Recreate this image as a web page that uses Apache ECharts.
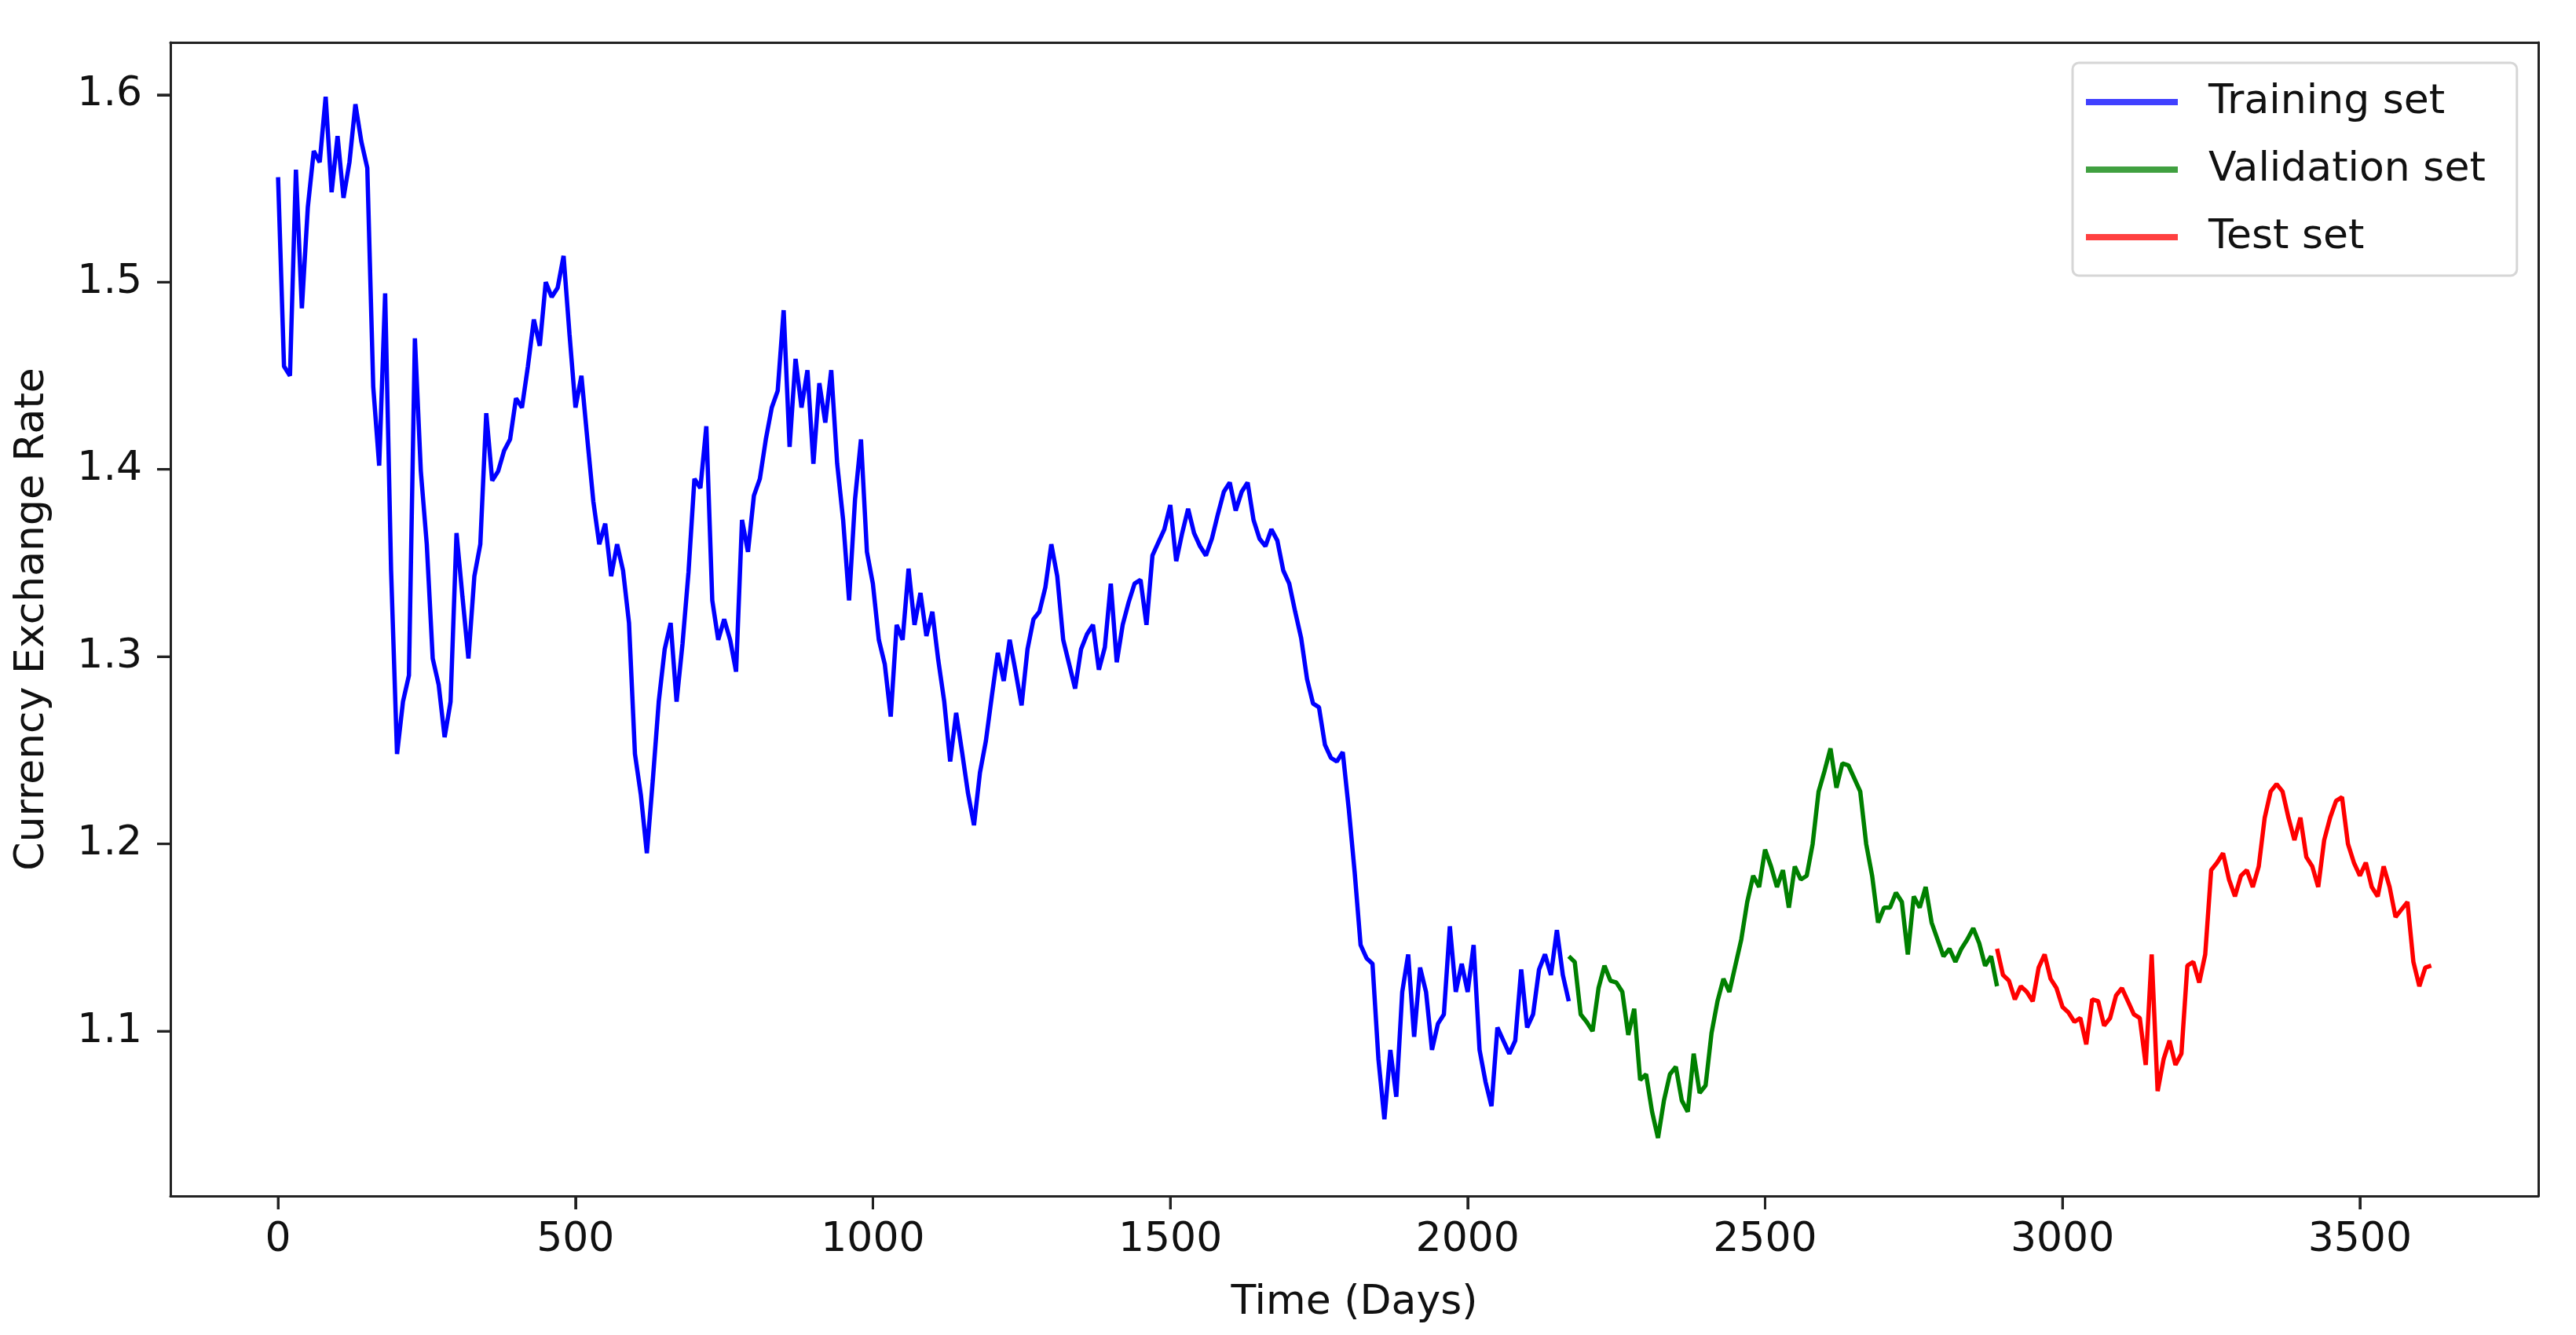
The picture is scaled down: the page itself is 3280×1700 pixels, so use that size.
<!DOCTYPE html>
<html>
<head>
<meta charset="utf-8">
<script src="https://cdn.jsdelivr.net/npm/echarts@6/dist/echarts.min.js"></script>
<style>
  html, body { margin: 0; padding: 0; background: #fff; }
  #chart { width: 3280px; height: 1700px; }
</style>
</head>
<body>
<div id="chart"></div>
<script>
// 每 10 天取一个点（从图上读出来的）
const dayStep = 10;
const trainStart = 0;
const validStart = 2170;
const testStart = 2890;

const trainValues = [
  1.556, 1.455, 1.450, 1.560, 1.486, 1.540, 1.570, 1.564, 1.599, 1.548,
  1.578, 1.545, 1.564, 1.595, 1.575, 1.561, 1.444, 1.402, 1.494, 1.346,
  1.248, 1.276, 1.290, 1.470, 1.399, 1.360, 1.299, 1.285, 1.257, 1.276,
  1.366, 1.332, 1.299, 1.343, 1.360, 1.430, 1.394, 1.399, 1.410, 1.416,
  1.438, 1.433, 1.455, 1.480, 1.466, 1.500, 1.492, 1.497, 1.514, 1.472,
  1.433, 1.450, 1.416, 1.383, 1.360, 1.371, 1.343, 1.360, 1.346, 1.318,
  1.248, 1.226, 1.195, 1.234, 1.276, 1.304, 1.318,
  1.276, 1.307, 1.345, 1.395, 1.390, 1.423, 1.330, 1.309, 1.320, 1.309,
  1.292, 1.373, 1.356, 1.386, 1.395, 1.416, 1.433, 1.442, 1.485, 1.412,
  1.459, 1.433, 1.453, 1.403, 1.446, 1.425, 1.453, 1.403, 1.373, 1.330,
  1.384, 1.416, 1.356, 1.339, 1.309, 1.296, 1.268, 1.317, 1.309, 1.347,
  1.317, 1.334, 1.311, 1.324, 1.298, 1.276, 1.244, 1.270, 1.249, 1.227,
  1.210, 1.238, 1.255, 1.279, 1.302, 1.287, 1.309, 1.292, 1.274, 1.304,
  1.320, 1.324, 1.337, 1.360, 1.343, 1.309, 1.296, 1.283, 1.304,
  1.312, 1.317, 1.293, 1.305, 1.339, 1.297, 1.317, 1.329, 1.339, 1.341,
  1.317, 1.354, 1.361, 1.368, 1.381, 1.351, 1.366, 1.379, 1.366, 1.359,
  1.354, 1.363, 1.376, 1.388, 1.393, 1.378, 1.388, 1.393, 1.373, 1.363,
  1.359, 1.368, 1.362, 1.346, 1.339, 1.324, 1.310, 1.288, 1.275, 1.273,
  1.253, 1.246, 1.244, 1.249, 1.219, 1.185, 1.146, 1.139, 1.136, 1.085,
  1.053, 1.090, 1.065, 1.121, 1.141, 1.097, 1.134, 1.121, 1.090, 1.104,
  1.109, 1.156, 1.121, 1.136, 1.121, 1.146, 1.090, 1.073, 1.060,
  1.102, 1.095, 1.088, 1.095, 1.133, 1.102, 1.109, 1.133, 1.141, 1.130,
  1.154, 1.130, 1.116
];

const validValues = [
  1.140, 1.137, 1.109, 1.105, 1.100, 1.123, 1.135, 1.127, 1.126, 1.121,
  1.098, 1.112, 1.074, 1.077, 1.057, 1.043, 1.063, 1.077, 1.081, 1.063,
  1.057, 1.088, 1.067, 1.071, 1.099, 1.116, 1.128, 1.121, 1.135, 1.149,
  1.169, 1.183, 1.177, 1.197, 1.188, 1.177, 1.186, 1.166, 1.188, 1.181,
  1.183, 1.200, 1.228, 1.239, 1.251, 1.230, 1.243, 1.242, 1.235, 1.228,
  1.200, 1.183, 1.158, 1.166, 1.166, 1.174, 1.169, 1.141, 1.172, 1.166,
  1.177, 1.158, 1.149, 1.140, 1.144, 1.137, 1.144, 1.149, 1.155, 1.147,
  1.135, 1.140, 1.124
];

const testValues = [
  1.144, 1.130, 1.127, 1.117, 1.124, 1.121, 1.116, 1.134, 1.141, 1.128,
  1.123, 1.113, 1.110, 1.105, 1.107, 1.093, 1.117, 1.116, 1.103, 1.107,
  1.119, 1.123, 1.116, 1.109, 1.107, 1.082, 1.141, 1.068, 1.085, 1.095,
  1.082, 1.088, 1.135, 1.137, 1.126, 1.141, 1.186, 1.190, 1.195, 1.181,
  1.172, 1.183, 1.186, 1.177, 1.188, 1.214, 1.228, 1.232, 1.228, 1.214,
  1.202, 1.214, 1.193, 1.188, 1.177, 1.202, 1.214, 1.223, 1.225, 1.200,
  1.190, 1.183, 1.190, 1.177, 1.172, 1.188, 1.177, 1.161, 1.165, 1.169,
  1.137, 1.124, 1.134, 1.135
];

const seriesNames = ['Training set', 'Validation set', 'Test set'];
const seriesColors = ['#0000ff', '#008000', '#ff0000'];
const xTicks = [0, 500, 1000, 1500, 2000, 2500, 3000, 3500];
const yTicks = [1.1, 1.2, 1.3, 1.4, 1.5, 1.6];

function toPoints(start, values) {
  return values.map((v, i) => [start + i * dayStep, v]);
}

const font = 'DejaVu Sans';
const axisColor = '#222';
const tickLen = 17;
const xRange = { min: -181, max: 3800 };
const yRange = { min: 1.012, max: 1.628 };

// 上边和右边只画一条线，凑成外框
const frameAxis = {
  type: 'value',
  axisLine: { show: true, onZero: false, lineStyle: { color: axisColor, width: 3 } },
  axisTick: { show: false },
  axisLabel: { show: false },
  splitLine: { show: false }
};

let myChart = echarts.init(document.getElementById('chart'));
let option = {
  animation: false,
  backgroundColor: '#fff',
  grid: {
    left: 217,
    top: 54,
    width: 3015,
    height: 1469
  },
  legend: {
    orient: 'vertical',
    left: 2639,
    top: 80,
    padding: [24, 40, 23, 17],
    itemWidth: 117,
    itemHeight: 8,
    itemGap: 34,
    icon: 'rect',
    backgroundColor: '#fff',
    borderColor: '#d6d6d6',
    borderWidth: 3,
    borderRadius: 8,
    itemStyle: { opacity: 0.75 },
    textStyle: {
      fontFamily: font,
      fontSize: 52,
      color: '#111',
      lineHeight: 52,
      padding: [0, 0, 0, 34]
    },
    data: seriesNames
  },
  xAxis: [
    {
      type: 'value',
      position: 'bottom',
      min: xRange.min,
      max: xRange.max,
      name: 'Time (Days)',
      nameLocation: 'middle',
      nameGap: 110,
      nameTextStyle: { fontFamily: font, fontSize: 52, color: '#111' },
      axisLine: { show: true, onZero: false, lineStyle: { color: axisColor, width: 3 } },
      splitLine: { show: false },
      axisTick: {
        show: true,
        length: tickLen,
        customValues: xTicks,
        lineStyle: { color: axisColor, width: 3 }
      },
      axisLabel: {
        customValues: xTicks,
        margin: 30,
        fontFamily: font,
        fontSize: 52,
        color: '#111',
        formatter: v => String(v)
      }
    },
    Object.assign({ position: 'top', min: xRange.min, max: xRange.max }, frameAxis)
  ],
  yAxis: [
    {
      type: 'value',
      position: 'left',
      min: yRange.min,
      max: yRange.max,
      name: 'Currency Exchange Rate',
      nameLocation: 'middle',
      nameGap: 150,
      nameRotate: 90,
      nameTextStyle: { fontFamily: font, fontSize: 52, color: '#111' },
      axisLine: { show: true, onZero: false, lineStyle: { color: axisColor, width: 3 } },
      splitLine: { show: false },
      axisTick: {
        show: true,
        length: tickLen,
        customValues: yTicks,
        lineStyle: { color: axisColor, width: 3 }
      },
      axisLabel: {
        customValues: yTicks,
        margin: 36,
        fontFamily: font,
        fontSize: 52,
        color: '#111',
        formatter: v => v.toFixed(1)
      }
    },
    Object.assign({ position: 'right', min: yRange.min, max: yRange.max }, frameAxis)
  ],
  series: [
    { values: trainValues, start: trainStart },
    { values: validValues, start: validStart },
    { values: testValues, start: testStart }
  ].map((s, i) => ({
    name: seriesNames[i],
    type: 'line',
    xAxisIndex: 0,
    yAxisIndex: 0,
    showSymbol: false,
    symbol: 'none',
    color: seriesColors[i],
    lineStyle: { width: 5.5, color: seriesColors[i] },
    data: toPoints(s.start, s.values)
  }))
};
myChart.setOption(option);

// 刻度线：位置用坐标轴自己换算，确保露在框外
const gridLeft = myChart.convertToPixel({ xAxisIndex: 0 }, xRange.min);
const gridBottom = myChart.convertToPixel({ yAxisIndex: 0 }, yRange.min);
const tickStyle = { stroke: axisColor, lineWidth: 3 };
const tickMarks = [];
xTicks.forEach(v => {
  const px = myChart.convertToPixel({ xAxisIndex: 0 }, v);
  tickMarks.push({
    type: 'line', silent: true, z: 10,
    shape: { x1: px, y1: gridBottom, x2: px, y2: gridBottom + tickLen },
    style: tickStyle
  });
});
yTicks.forEach(v => {
  const py = myChart.convertToPixel({ yAxisIndex: 0 }, v);
  tickMarks.push({
    type: 'line', silent: true, z: 10,
    shape: { x1: gridLeft - tickLen, y1: py, x2: gridLeft, y2: py },
    style: tickStyle
  });
});
myChart.setOption({ graphic: tickMarks });
</script>
</body>
</html>
